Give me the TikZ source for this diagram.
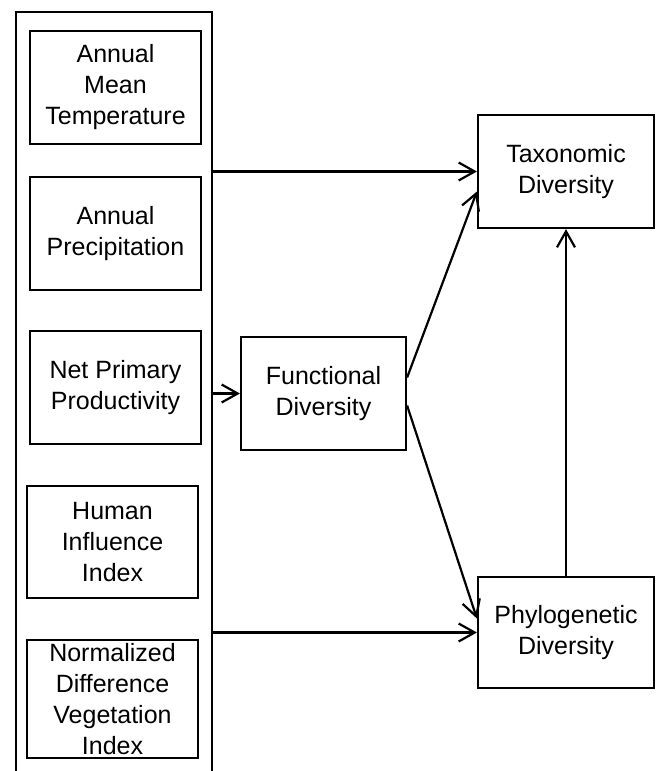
\documentclass[tikz,border=0pt]{standalone}
\usepackage{fontspec}
\setmainfont{Liberation Sans}
\usetikzlibrary{arrows.meta}
\begin{document}
\begin{tikzpicture}[x=1pt,y=-1pt,line width=2.2pt,
  box/.style={draw,align=center,inner sep=0pt,minimum height=113pt,
    font=\fontsize{25}{31}\selectfont},
  arr/.style={-{Straight Barb[length=16pt,width=18pt]}}]
\useasboundingbox (0,0) rectangle (656,771);
\draw (16,772) |- (212,12) -- (212,772);
\coordinate (t) at (212,171.5);
\coordinate (f) at (212,393.5);
\coordinate (p) at (212,632.5);

\node[box,minimum width=171pt] (amt) at (115.5,87.5) {Annual\\Mean\\Temperature};
\node[box,minimum width=171pt] (ap) at (115.5,233.5) {Annual\\Precipitation};
\node[box,minimum width=171pt] (npp) at (115.5,387.5) {Net Primary\\Productivity};
\node[box,minimum width=171pt,minimum height=112pt] (hii) at (112.5,542) {Human\\Influence\\Index};
\node[box,minimum width=171pt,minimum height=118pt] (ndvi) at (112.5,699) {Normalized\\Difference\\Vegetation\\Index};

\node[box,minimum width=165pt] (fun) at (323.5,393.5) {Functional\\Diversity};
\node[box,minimum width=176pt] (tax) at (566,171.5) {Taxonomic\\Diversity};
\node[box,minimum width=176pt,minimum height=111pt] (phy) at (566,632.5) {Phylogenetic\\Diversity};

\draw[arr] (t) -- (tax.west);
\draw[arr] (f) -- (fun.west);
\draw[arr] (p) -- (phy.west);
\draw[arr] ([yshift=16pt]fun.east) -- ([yshift=-20pt]tax.west);
\draw[arr] ([yshift=-12pt]fun.east) -- ([yshift=14pt]phy.west);
\draw[arr] (phy.north) -- (tax.south);
\end{tikzpicture}
\end{document}
